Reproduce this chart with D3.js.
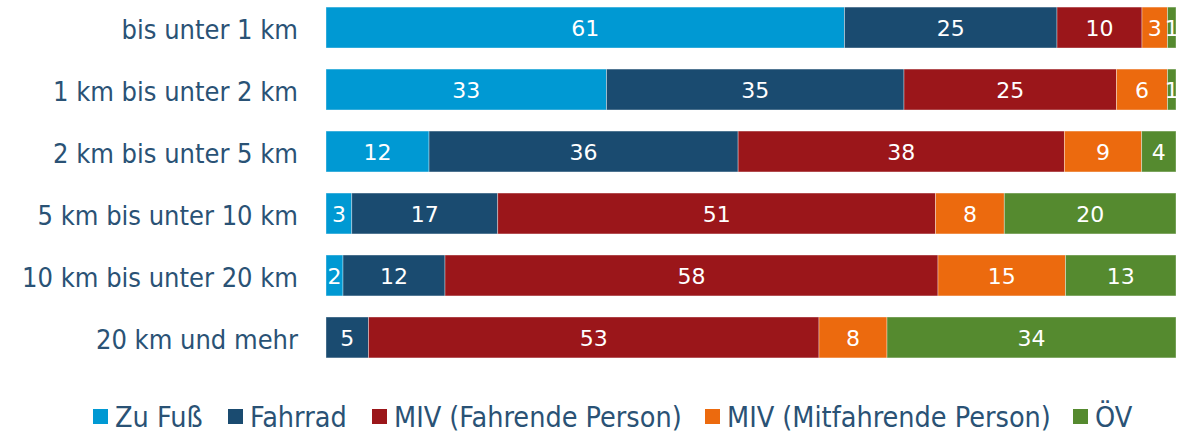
<!DOCTYPE html>
<html><head><meta charset="utf-8">
<script src="https://cdn.jsdelivr.net/npm/d3@7"></script>
<style>body{margin:0;background:#fff}svg{display:block}</style>
</head><body>
<svg id="c" width="1185" height="433"></svg>
<script>
const categories = ["bis unter 1 km","1 km bis unter 2 km","2 km bis unter 5 km","5 km bis unter 10 km","10 km bis unter 20 km","20 km und mehr"];
const seriesNames = ["Zu Fuß","Fahrrad","MIV (Fahrende Person)","MIV (Mitfahrende Person)","ÖV"];
const zuFuss    = [61,33,12,3,2,0];
const fahrrad   = [25,35,36,17,12,5];
const mivFahr   = [10,25,38,51,58,53];
const mivMit    = [3,6,9,8,15,8];
const oev       = [1,1,4,20,13,34];
const colors = ["#0099d3","#1a4b70","#9b161a","#ec6a0e","#558a2f"];

const fontC = "'DejaVu Sans Condensed','DejaVu Sans',sans-serif";
const fontV = "'DejaVu Sans',sans-serif";
const textColor = "#2a5275";
const svg = d3.select("#c");
const seriesVals = [zuFuss,fahrrad,mivFahr,mivMit,oev];
const rows = categories.map((c,i)=>{
  const o={cat:c};
  seriesNames.forEach((s,j)=>o[s]=seriesVals[j][i]);
  o.total=d3.sum(seriesVals,v=>v[i]);
  return o;
});
const normRows = rows.map(r=>{const o={cat:r.cat};seriesNames.forEach(s=>o[s]=r[s]/r.total);o.raw=r;return o;});
const stack = d3.stack().keys(seriesNames)(normRows);

const x = d3.scaleLinear().domain([0,1]).range([326,1176]);
const y = d3.scaleBand().domain(categories).range([-14,379]).paddingInner(0.34).paddingOuter(0.34);

const g = svg.append("g");
stack.forEach((layer,j)=>{
  const lg = g.append("g");
  lg.selectAll("rect").data(layer).join("rect")
    .attr("x",d=>x(d[0])).attr("width",d=>x(d[1])-x(d[0]))
    .attr("y",d=>y(d.data.cat)).attr("height",y.bandwidth())
    .attr("fill",colors[j]).attr("stroke","#ffffff").attr("stroke-opacity",0.45).attr("stroke-width",0.8);
  lg.selectAll("text").data(layer.filter(d=>d.data.raw[seriesNames[j]]>0)).join("text")
    .attr("x",d=>(x(d[0])+x(d[1]))/2).attr("y",d=>y(d.data.cat)+y.bandwidth()/2)
    .attr("dy","0.37em").attr("text-anchor","middle")
    .attr("fill","#fff").style("font-family",fontV).style("font-size","22px")
    .text(d=>d.data.raw[seriesNames[j]]);
});

const yAxis = svg.append("g").attr("transform","translate(298,0)")
  .call(d3.axisLeft(y).tickSize(0).tickPadding(0));
yAxis.select(".domain").remove();
yAxis.selectAll("text").attr("fill",textColor).style("font-family",fontC).style("font-size","27px").attr("dy","0.42em");

// legend
const lx = [93,228,372,705,1073];
const leg = svg.append("g");
seriesNames.forEach((s,j)=>{
  leg.append("rect").attr("x",lx[j]).attr("y",409).attr("width",15).attr("height",15).attr("fill",colors[j]);
  leg.append("text").attr("x",lx[j]+22).attr("y",417).attr("dy","0.36em")
    .attr("fill",textColor).style("font-family",fontC).style("font-size","28.5px").text(s);
});
</script>
</body></html>
